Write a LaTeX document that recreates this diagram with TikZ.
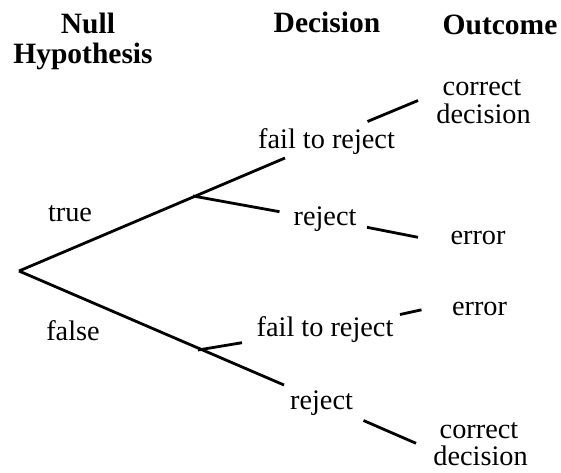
\documentclass[tikz,border=0pt]{standalone}
\usepackage{fontspec}
\setmainfont{Liberation Serif}
\begin{document}
\begin{tikzpicture}[x=1pt,y=-1pt,
  lbl/.style={inner sep=0pt,anchor=base,font=\fontsize{28.3}{30}\selectfont},
  hdr/.style={inner sep=0pt,anchor=base,font=\fontsize{29.5}{31}\selectfont\bfseries},
  branch/.style={line width=2.8pt,black}]
\useasboundingbox (0,0) rectangle (561,472);
% headers
\node[hdr] (null) at (88,33) {Null};
\node[hdr] (hyp) at (83,63) {Hypothesis};
\node[hdr] (dec) at (327,32) {Decision};
\node[hdr] (out) at (500,34) {Outcome};
% labels
\node[lbl] (ttrue) at (70,221) {true};
\node[lbl] (tfalse) at (73,340) {false};
\node[lbl] (ftr1) at (326.5,148) {fail to reject};
\node[lbl] (rej1) at (325,225) {reject};
\node[lbl] (ftr2) at (325,336) {fail to reject};
\node[lbl] (rej2) at (321.5,409) {reject};
\node[lbl] (cor1) at (482,95) {correct};
\node[lbl] (decn1) at (483.5,123) {decision};
\node[lbl] (err1) at (478,244) {error};
\node[lbl] (err2) at (479.5,315) {error};
\node[lbl] (cor2) at (479,438) {correct};
\node[lbl] (decn2) at (480.5,465) {decision};
% line points
\coordinate (root) at (19,271);
\coordinate (b1) at (193,196);
\coordinate (e1) at (285,158);
\coordinate (r1) at (279.5,211.7);
\coordinate (b2) at (198,350);
\coordinate (e2) at (284,385);
\coordinate (f2) at (242,342.7);
\coordinate (o1s) at (367.5,121.5);
\coordinate (o1e) at (418,100.5);
\coordinate (o2s) at (367,227.3);
\coordinate (o2e) at (418,237.3);
\coordinate (o3s) at (400,314.5);
\coordinate (o3e) at (421.5,309.8);
\coordinate (o4s) at (363.5,420.5);
\coordinate (o4e) at (416,443.3);
% connectors
\draw[branch] (root) -- (e1);
\draw[branch] (b1) -- (r1);
\draw[branch] (root) -- (e2);
\draw[branch] (b2) -- (f2);
\draw[branch] (o1s) -- (o1e);
\draw[branch] (o2s) -- (o2e);
\draw[branch] (o3s) -- (o3e);
\draw[branch] (o4s) -- (o4e);
\end{tikzpicture}
\end{document}
